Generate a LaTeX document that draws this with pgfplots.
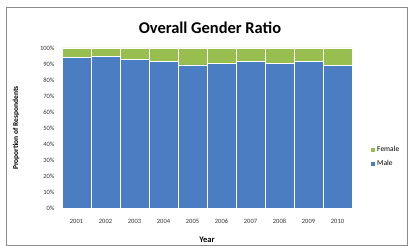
\documentclass[border=0pt]{standalone}
\usepackage{pgfplots}
\pgfplotsset{compat=1.18}
\usepackage{fontspec}
\setmainfont{Carlito}
\definecolor{mblue}{HTML}{4A7DC2}
\definecolor{fgreen}{HTML}{98BE50}
\definecolor{frame}{HTML}{8C8C8C}
\begin{document}
\begin{tikzpicture}[x=1bp,y=1bp]
\useasboundingbox (0,0) rectangle (410,246);
\draw[frame,line width=0.8bp] (6,0.5) rectangle (407,239);
\node[font=\bfseries\fontsize{16.5}{18}\selectfont] at (210,218) {Overall Gender Ratio};
\begin{axis}[
  at={(62bp,38bp)}, anchor=south west,
  scale only axis, width=290bp, height=160bp,
  ybar stacked, bar width=1,
  xmin=0.5, xmax=10.5, ymin=0, ymax=100,
  xtick={1,...,10},
  xticklabels={2001,2002,2003,2004,2005,2006,2007,2008,2009,2010},
  ytick={0,10,...,100},
  yticklabel={\pgfmathprintnumber{\tick}\%},
  /pgf/number format/assume math mode=true,
  tick label style={font=\fontsize{6.5}{7}\selectfont, text=black!80},
  xticklabel style={yshift=-8bp},
  yticklabel style={xshift=-4bp},
  axis line style={draw=none},
  major tick length=0pt,
  ylabel={\textbf{Proportion of Respondents}},
  ylabel style={font=\fontsize{7.5}{8}\selectfont, at={(axis description cs:-0.135,0.5)}},
  xlabel={\textbf{Year}},
  xlabel style={font=\fontsize{8.5}{9}\selectfont, yshift=-6bp},
  legend style={at={(1.06,0.32)}, anchor=west, draw=none, font=\fontsize{7.5}{8}\selectfont, row sep=3bp, inner sep=0pt},
  legend cell align=left,
  reverse legend,
  legend image code/.code={\fill[#1] (0bp,-2.5bp) rectangle (5bp,2.5bp);},
  clip=false,
]
\addplot[fill=mblue, draw=white, line width=0.6bp] coordinates {(1,94.2) (2,94.8) (3,92.7) (4,91.7) (5,89.4) (6,90.4) (7,91.7) (8,90.6) (9,91.7) (10,89.2)};
\addlegendentry{Male}
\addplot[fill=fgreen, draw=white, line width=0.6bp] coordinates {(1,5.8) (2,5.2) (3,7.3) (4,8.3) (5,10.6) (6,9.6) (7,8.3) (8,9.4) (9,8.3) (10,10.8)};
\addlegendentry{Female}
\end{axis}
\end{tikzpicture}
\end{document}
